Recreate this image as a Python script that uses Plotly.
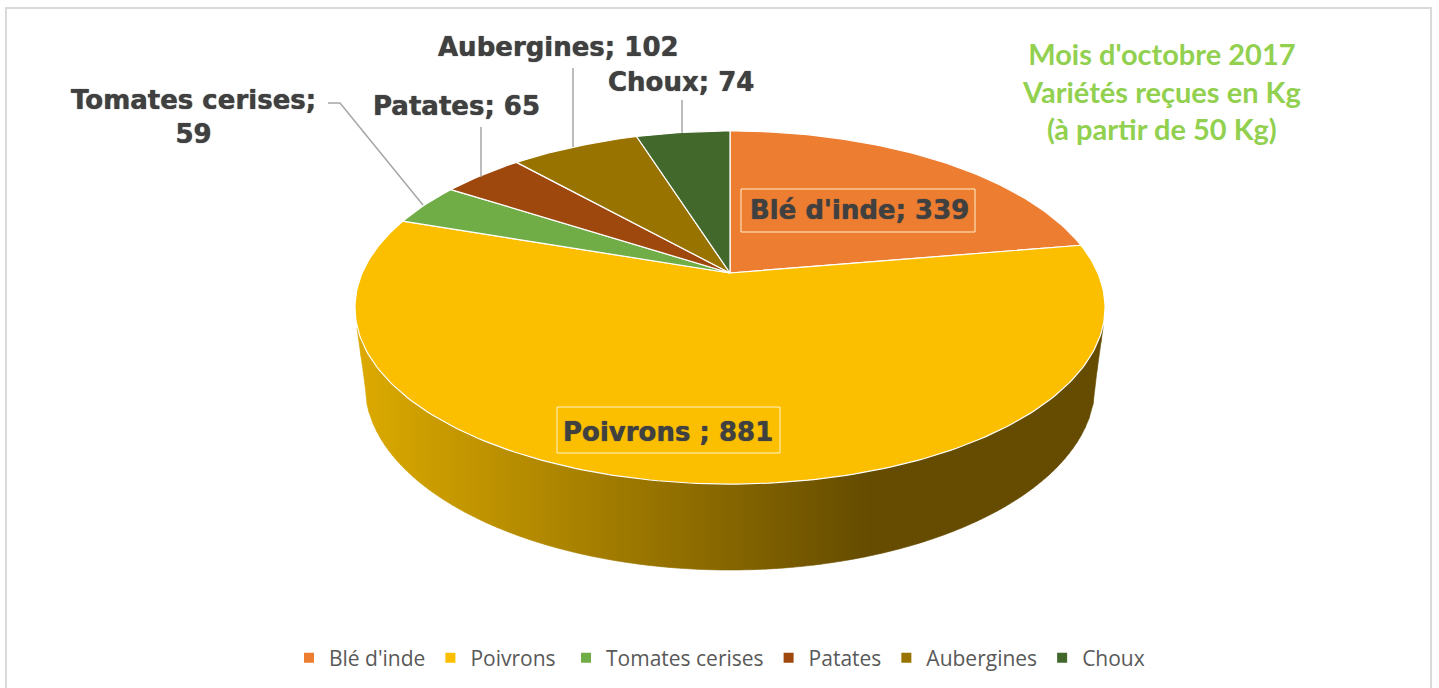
import numpy as np
import plotly.graph_objects as go

categories = ["Blé d'inde", "Poivrons", "Tomates cerises", "Patates", "Aubergines", "Choux"]
values = [339, 881, 59, 65, 102, 74]
colors = ["#ED7D31", "#FBBF00", "#70AD47", "#9E480E", "#997300", "#43682B"]
label_sep = ["; ", " ; ", "; ", "; ", "; ", "; "]
title_lines = ["Mois d'octobre 2017", "Variétés reçues en Kg", "(à partir de 50 Kg)"]

W, H = 1439, 688
CX, CY = 730, 273      # apex of the tilted disc
A, B, K = 367.8, 169.8, 0.1955  # perspective disc


def disc(theta):
    u, v = np.sin(theta), np.cos(theta)
    d = 1 + K * v
    return CX + A * u / d, CY - B * v / d


fig = go.Figure()

# Frame of the chart area
fig.add_shape(type="rect", x0=6, x1=1431, y0=8, y1=720, line=dict(color="#D9D9D9", width=2),
              fillcolor="white", layer="below")

# Side wall: vertical gradient strips between the top disc and the lower outline
E, YC, HH = 365.0, 385.0, 185.0
TE, TY, TH = 375.0, 307.5, 176.5


def upper(x):
    return TY + TH * np.sqrt(np.clip(1 - ((x - CX) / TE) ** 2, 0, 1))


def lower(x):
    dx = abs(x - CX)
    if dx <= E:
        return YC + HH * np.sqrt(1 - (dx / E) ** 2)
    return YC - (dx - E) / (373 - E) * (YC - 328)


c0 = np.array([220, 170, 0])
c1 = np.array([101, 76, 0])
edges = np.arange(357, 1104, 4.0)
edges = np.append(edges, 1103.0)
for x0, x1 in zip(edges[:-1], edges[1:]):
    t = min(1, max(0, ((x0 + x1) / 2 - 357) / (870 - 357)))
    c = c0 + (c1 - c0) * t
    col = f"rgb({c[0]:.0f},{c[1]:.0f},{c[2]:.0f})"
    xs = np.linspace(x0, x1, 3)
    px = list(xs) + list(xs[::-1])
    py = [upper(x) - 2 for x in xs] + [lower(x) for x in xs[::-1]]
    fig.add_trace(go.Scatter(x=px, y=py, fill="toself", fillcolor=col, mode="lines",
                             line=dict(color=col, width=0.6), hoverinfo="skip", showlegend=False))

# Wedges computed from the values
total = sum(values)
cum = 0
for name, val, col in zip(categories, values, colors):
    t0 = cum / total * 2 * np.pi
    cum += val
    t1 = cum / total * 2 * np.pi
    th = np.linspace(t0, t1, max(3, int(val / total * 360) + 2))
    ex, ey = disc(th)
    fig.add_trace(go.Scatter(x=[CX, *ex, CX], y=[CY, *ey, CY], fill="toself", fillcolor=col,
                             mode="lines", line=dict(color="white", width=1.2),
                             name=name, hoverinfo="name", showlegend=False))

# Leader lines
leaders = [
    ([328, 340, 423], [103, 103, 205]),
    ([481, 481], [127, 177]),
    ([573, 573], [68, 147]),
    ([682, 682], [100, 133]),
]
for lx, ly in leaders:
    fig.add_trace(go.Scatter(x=lx, y=ly, mode="lines", line=dict(color="#A6A6A6", width=1.5),
                             hoverinfo="skip", showlegend=False))

# Legend entries
for name, col in zip(categories, colors):
    shown = name + "\u00a0" if name == "Poivrons" else name
    fig.add_trace(go.Scatter(x=[None], y=[None], mode="markers", name=shown,
                             marker=dict(symbol="square", size=10, color=col)))

labels = [f"{c}{s}{v}" for c, s, v in zip(categories, label_sep, values)]
lab_font = dict(family="DejaVu Sans", size=26, color="#404040", weight="bold",
                shadow="0 0 1px #404040")
pos = [(859, 210), (668, 432), (193, 117), (456, 106), (558, 47), (681, 82)]
for i, (txt, (x, y)) in enumerate(zip(labels, pos)):
    if i == 2:
        txt = f"{categories[2]};<br>{values[2]}"
    fig.add_annotation(x=x, y=y, text=txt, showarrow=False, font=lab_font, align="center")

# Outline boxes round the two inside labels
for x0, y0, x1, y1 in [(741, 189, 975, 232), (557, 407, 780, 453)]:
    fig.add_shape(type="rect", x0=x0, y0=y0, x1=x1, y1=y1, line=dict(color="#FFF2CC", width=1),
                  layer="above")

fig.add_annotation(x=1161, y=91, text="<br>".join(title_lines), showarrow=False, align="center",
                   font=dict(family="Lato", size=29, color="#92D050", weight="bold"))

fig.update_layout(
    width=W, height=H, margin=dict(l=0, r=0, t=0, b=0),
    paper_bgcolor="white", plot_bgcolor="white",
    xaxis=dict(range=[0, W], visible=False, fixedrange=True),
    yaxis=dict(range=[H, 0], visible=False, fixedrange=True),
    legend=dict(orientation="h", x=0.5, xanchor="center", y=1 - 658 / H, yanchor="middle",
                font=dict(family="Open Sans", size=21, color="#595959"), bgcolor="rgba(0,0,0,0)"),
)

fig.write_html("out.html", config={"displayModeBar": False},
               post_script="document.body.style.margin='0';document.body.style.overflow='hidden';")
